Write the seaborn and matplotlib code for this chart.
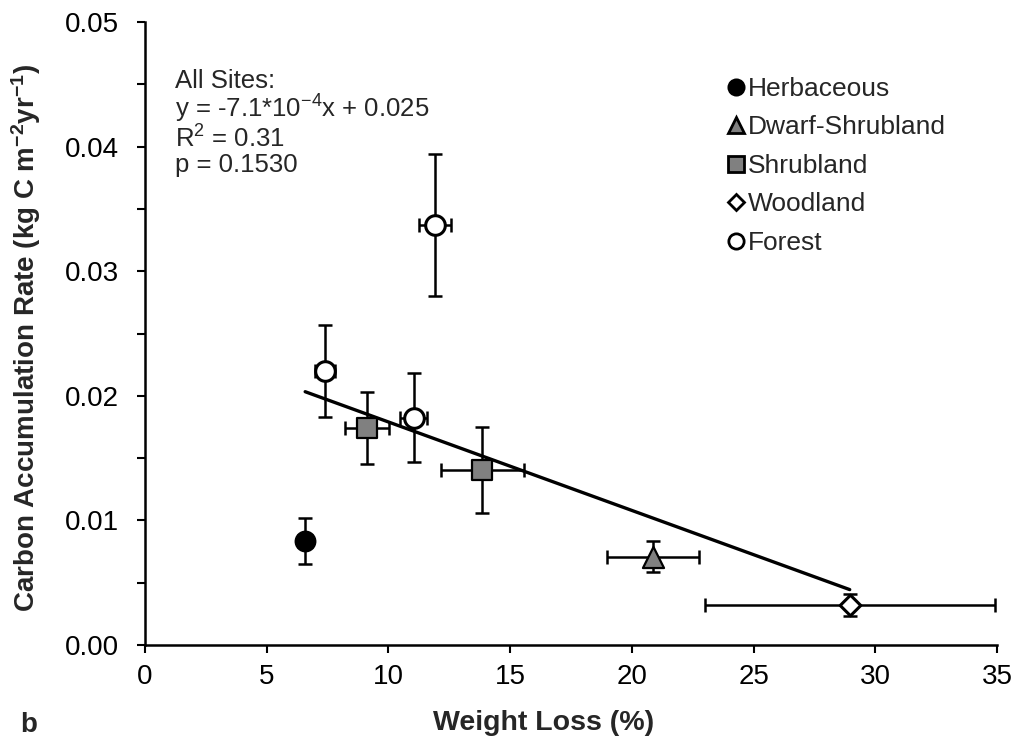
import numpy as np
import pandas as pd
import matplotlib
matplotlib.use("Agg")
import matplotlib.pyplot as plt
import seaborn as sns
from matplotlib.lines import Line2D

# ---- data ----
site_type = ["Herbaceous", "Dwarf-Shrubland", "Shrubland", "Shrubland",
             "Woodland", "Forest", "Forest", "Forest"]
weight_loss = [6.58, 20.87, 9.13, 13.86, 28.95, 7.40, 11.03, 11.91]
weight_loss_err = [0.3, 1.90, 0.91, 1.69, 5.95, 0.41, 0.55, 0.65]
carbon_rate = [0.00835, 0.00710, 0.01740, 0.01404, 0.00321, 0.02200, 0.01823, 0.03372]
carbon_rate_err = [0.00185, 0.00122, 0.00288, 0.00343, 0.00088, 0.00370, 0.00358, 0.00570]

categories = ["Herbaceous", "Dwarf-Shrubland", "Shrubland", "Woodland", "Forest"]
cat_markers = {"Herbaceous": "o", "Dwarf-Shrubland": "^", "Shrubland": "s",
               "Woodland": "D", "Forest": "o"}
cat_colors = {"Herbaceous": "black", "Dwarf-Shrubland": "#808080",
              "Shrubland": "#808080", "Woodland": "white", "Forest": "white"}
cat_sizes = {"Herbaceous": 200, "Dwarf-Shrubland": 230, "Shrubland": 200,
             "Woodland": 110, "Forest": 200}

fit_slope = -7.1e-4
fit_intercept = 0.025
x_ticks = [0, 5, 10, 15, 20, 25, 30, 35]
y_ticks = [0.00, 0.01, 0.02, 0.03, 0.04, 0.05]

df = pd.DataFrame({"type": site_type, "wl": weight_loss, "wl_err": weight_loss_err,
                   "car": carbon_rate, "car_err": carbon_rate_err})

sns.set_style("white")
plt.rcParams["font.family"] = ["Liberation Sans", "DejaVu Sans"]
plt.rcParams["mathtext.default"] = "regular"
plt.rcParams["mathtext.fontset"] = "custom"
plt.rcParams["mathtext.rm"] = "Liberation Sans"
plt.rcParams["mathtext.bf"] = "Liberation Sans:bold"

W, H = 1016, 740
fig = plt.figure(figsize=(W / 100, H / 100), dpi=100)
ax_l, ax_r, ax_t, ax_b = 145, 997, 22, 645
ax = fig.add_axes([ax_l / W, 1 - ax_b / H, (ax_r - ax_l) / W, (ax_b - ax_t) / H])

# error bars
ax.errorbar(df["wl"], df["car"], xerr=df["wl_err"], yerr=df["car_err"],
            fmt="none", ecolor="black", elinewidth=1.8, capsize=5,
            capthick=1.8, zorder=2)

# trend line from the reported equation over the data range
x_fit = np.array([df["wl"].min(), df["wl"].max()])
y_fit = fit_slope * x_fit + fit_intercept
sns.lineplot(x=x_fit, y=y_fit, ax=ax, color="black", linewidth=2.4, zorder=3)

# markers
for cat in categories:
    sub = df[df["type"] == cat]
    sns.scatterplot(data=sub, x="wl", y="car", ax=ax, marker=cat_markers[cat],
                    color=cat_colors[cat], edgecolor="black",
                    linewidth=2.2 if cat in ("Forest", "Woodland") else 1.6,
                    s=cat_sizes[cat], zorder=4, legend=False)

ax.set_xlim(0, 35)
ax.set_ylim(0, 0.05)
ax.set_xticks(x_ticks)
ax.set_yticks(y_ticks)
ax.set_yticks(np.arange(0.005, 0.05, 0.01), minor=True)
ax.set_xticklabels([str(t) for t in x_ticks])
ax.set_yticklabels([f"{t:.2f}" for t in y_ticks])
ax.tick_params(axis="both", which="both", direction="out", length=6, width=1.5,
               color="black", labelsize=20, labelcolor="black")
ax.tick_params(axis="x", which="major", bottom=True, pad=8)
ax.tick_params(axis="y", which="both", left=True, pad=13)

for side in ["top", "right"]:
    ax.spines[side].set_visible(False)
for side in ["left", "bottom"]:
    ax.spines[side].set_color("black")
    ax.spines[side].set_linewidth(1.8)

ax.set_xlabel("Weight Loss (%)", fontsize=20.5, fontweight="bold", va="top")
ax.xaxis.set_label_coords((544 - ax_l) / (ax_r - ax_l), -0.105)
ax.set_ylabel(r"Carbon Accumulation Rate (kg C m$^{\mathbf{-2}}$yr$^{\mathbf{-1}}$)",
              fontsize=20, fontweight="bold", va="center")
ax.yaxis.set_label_coords((26 - ax_l) / (ax_r - ax_l), 0.493)

ax.text(30 / (ax_r - ax_l), 0.925,
        "All Sites:\n" + r"y = -7.1*10$^{-4}$x + 0.025" + "\n" + r"R$^{2}$ = 0.31" + "\np = 0.1530",
        transform=ax.transAxes, fontsize=18.5, va="top", ha="left", linespacing=1.02)

fig.text(20 / W, (H - 732) / H, "b", fontsize=20, fontweight="bold",
         ha="left", va="baseline")

# legend
handles = [Line2D([], [], linestyle="none", marker=cat_markers[c],
                  markerfacecolor=cat_colors[c], markeredgecolor="black",
                  markeredgewidth=2.0, markersize=11 if c != "Woodland" else 8)
           for c in categories]
leg = ax.legend(handles, categories, loc="upper left",
                bbox_to_anchor=((725 - ax_l) / (ax_r - ax_l), 0.912),
                frameon=False, fontsize=19, handletextpad=0.05, handlelength=0.8,
                labelspacing=0.55, borderaxespad=0, borderpad=0)

fig.savefig("out.png", dpi=100)
